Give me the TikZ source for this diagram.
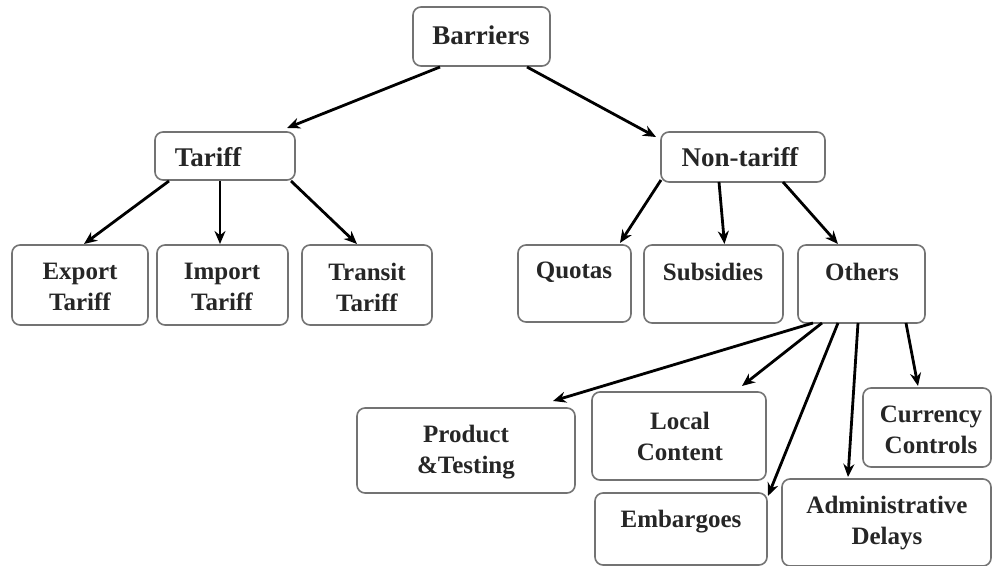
\documentclass[tikz,border=0pt]{standalone}
\usepackage{fontspec}
\setmainfont{Liberation Serif}
\usetikzlibrary{arrows.meta,calc}
\tikzset{
  box/.style={draw=black!55, line width=0.8pt, rounded corners=4pt, inner sep=0pt, outer sep=0pt, fill=white},
  toptxt/.style={font=\fontsize{13.5}{16}\selectfont\bfseries, text=black!85, inner sep=0pt, align=center},
  txt/.style={font=\fontsize{12.5}{15.5}\selectfont\bfseries, text=black!85, inner sep=0pt, align=center},
  arr/.style={line width=1.4pt, -{Stealth[length=6.5pt,width=5.5pt]}, black}
}
\begin{document}
\begin{tikzpicture}[x=0.5pt,y=-0.5pt]
\useasboundingbox (0,0) rectangle (992,566);
% boxes
\node[box, minimum width=68.5pt, minimum height=29.5pt] (barriers) at (481.5,36.5) {};
\node[box, minimum width=70pt, minimum height=24pt] (tariff) at (225,156) {};
\node[box, minimum width=82pt, minimum height=25pt] (nontariff) at (743,157) {};
\node[box, minimum width=68pt, minimum height=40pt] (export) at (80,285) {};
\node[box, minimum width=65.5pt, minimum height=40pt] (import) at (222.5,285) {};
\node[box, minimum width=65pt, minimum height=40pt] (transit) at (367,285) {};
\node[box, minimum width=56.5pt, minimum height=38.5pt] (quotas) at (574.5,283.5) {};
\node[box, minimum width=69.5pt, minimum height=39pt] (subsidies) at (713.5,284) {};
\node[box, minimum width=63.5pt, minimum height=39pt] (others) at (861.5,284) {};
\node[box, minimum width=109pt, minimum height=42.5pt] (product) at (466,450.5) {};
\node[box, minimum width=87pt, minimum height=44pt] (local) at (679,436) {};
\node[box, minimum width=86pt, minimum height=36pt] (embargoes) at (681,529) {};
\node[box, minimum width=104.5pt, minimum height=43.5pt] (admin) at (886.5,522.5) {};
\node[box, minimum width=64pt, minimum height=39.5pt] (currency) at (927,427.5) {};
% texts
\node[toptxt] (tbarriers) at (481,35) {Barriers};
\node[toptxt] (ttariff) at (208,157) {Tariff};
\node[toptxt] (tnontariff) at (740,157) {Non-tariff};
\node[txt] (texport) at (80,287) {Export\\Tariff};
\node[txt] (timport) at (222,287) {Import\\Tariff};
\node[txt] (ttransit) at (367,287) {Transit\\Tariff};
\node[txt] (tquotas) at (574,272) {Quotas};
\node[txt] (tsubsidies) at (713,272) {Subsidies};
\node[txt] (tothers) at (862,272) {Others};
\node[txt] (tproduct) at (466,452) {Product\\\&Testing};
\node[txt] (tlocal) at (680,436) {Local\\Content};
\node[txt] (tembargoes) at (681,522) {Embargoes};
\node[txt] (tadmin) at (887,523) {Administrative\\Delays};
\node[txt] (tcurrency) at (931,430) {Currency\\Controls};
% connectors
\draw[arr] ($(barriers.south west)+(27,1)$) -- ($(tariff.north east)+(-8,-4)$);
\draw[arr] ($(barriers.south east)+(-23,1)$) -- ($(nontariff.north west)+(-5,5)$);
\draw[arr] ($(tariff.south west)+(14,1)$) -- ($(export.north)+(4,-1)$);
\draw[arr] ($(tariff.south west)+(65,1)$) -- ($(import.north)+(-2.5,-1)$);
\draw[arr] ($(tariff.south east)+(-4,1)$) -- ($(transit.north)+(-10,-1)$);
\draw[arr] ($(nontariff.south west)+(0,-2)$) -- ($(quotas.north)+(45.5,-2)$);
\draw[arr] ($(nontariff.south west)+(58,0)$) -- ($(subsidies.north)+(11,-1)$);
\draw[arr] ($(nontariff.south west)+(122,0)$) -- ($(others.north)+(-23.5,-1)$);
\draw[arr] ($(others.south west)+(15,0)$) -- ($(product.north east)+(-22,-7)$);
\draw[arr] ($(others.south west)+(24,0)$) -- ($(local.north east)+(-24,-6)$);
\draw[arr] ($(others.south west)+(40,0)$) -- ($(embargoes.north east)+(1,3)$);
\draw[arr] ($(others.south west)+(60,0)$) -- ($(admin.north west)+(66,-2)$);
\draw[arr] ($(others.south west)+(108,0)$) -- ($(currency.north west)+(55,-2)$);
\end{tikzpicture}
\end{document}
